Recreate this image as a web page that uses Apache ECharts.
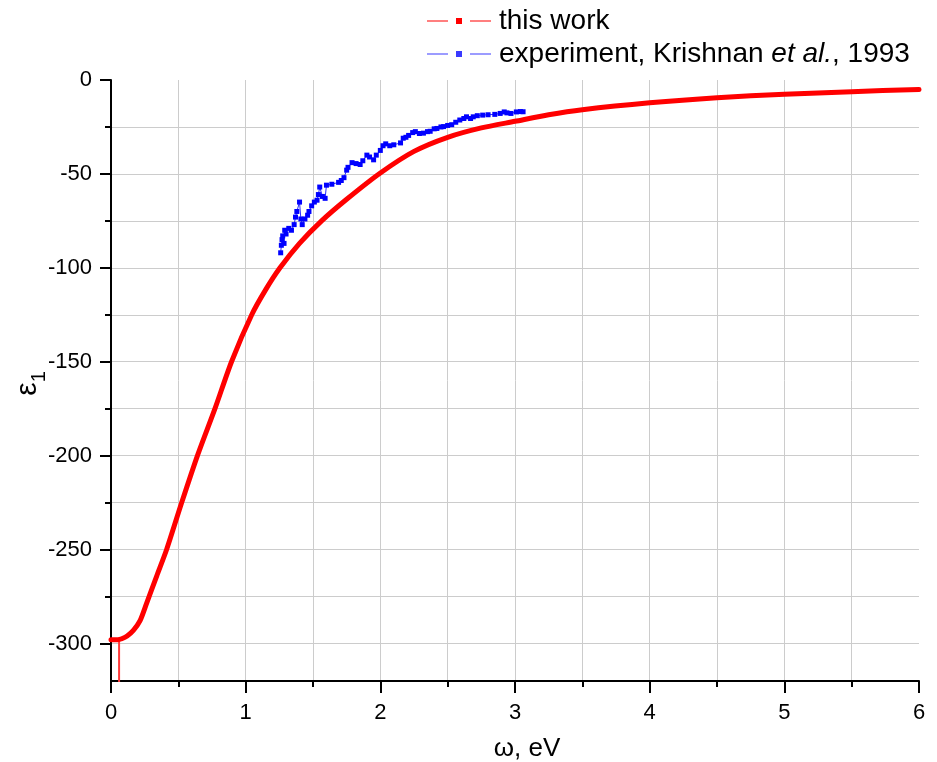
<!DOCTYPE html>
<html><head><meta charset="utf-8">
<script src="https://cdn.jsdelivr.net/npm/echarts@6/dist/echarts.min.js"></script>
<style>html,body{margin:0;padding:0;background:#fff}#c{width:937px;height:762px}</style>
</head><body><div id="c"></div>
<script>
// ---- data ----
const workOmega = [0.0, 0.05, 0.08, 0.12, 0.166, 0.215, 0.265, 0.34, 0.413, 0.525, 0.642, 0.772, 0.895, 1.045, 1.15, 1.255, 1.40, 1.564, 1.75, 2.0, 2.25, 2.5, 2.75, 3.0, 3.25, 3.5, 4.0, 4.5, 5.0, 5.5, 6.0];
const workEps = [-298, -298, -297.5, -296, -293, -288, -278.5, -264, -250, -225, -200, -175, -150, -125, -111.5, -100, -87, -75, -63.5, -49.5, -38, -30.5, -25.5, -22, -18.5, -15.8, -12.1, -9.4, -7.6, -6.2, -5.0];
const expOmega = [1.26, 1.265, 1.27, 1.275, 1.285, 1.29, 1.30, 1.32, 1.34, 1.36, 1.37, 1.38, 1.40, 1.41, 1.42, 1.44, 1.46, 1.47, 1.49, 1.51, 1.53, 1.54, 1.55, 1.57, 1.59, 1.60, 1.64, 1.69, 1.71, 1.73, 1.75, 1.76, 1.79, 1.82, 1.85, 1.87, 1.90, 1.92, 1.95, 1.97, 2.00, 2.02, 2.04, 2.07, 2.10, 2.15, 2.17, 2.19, 2.21, 2.24, 2.26, 2.29, 2.32, 2.35, 2.37, 2.40, 2.42, 2.45, 2.47, 2.50, 2.53, 2.56, 2.59, 2.62, 2.64, 2.67, 2.69, 2.72, 2.76, 2.80, 2.85, 2.89, 2.92, 2.94, 2.97, 3.01, 3.04, 3.06];
const expEps = [-92, -88, -85, -83, -87, -80, -82, -79, -80, -77, -73, -70, -65, -74, -77, -74, -72, -70, -67, -65, -64, -61, -57, -62, -63, -56, -55.5, -54.5, -53.5, -52, -48, -46.5, -44, -44.5, -45, -43, -40, -41, -42.5, -40, -37.5, -35, -34, -35, -34.5, -33.5, -31, -30.5, -29.5, -28, -27.5, -28.5, -28.3, -27.5, -27.3, -26, -25.8, -25, -24.8, -24.2, -23.8, -22.5, -21.3, -20.5, -19.6, -20.5, -19.6, -19, -18.7, -18.5, -18.3, -17.8, -17, -17.5, -17.8, -17, -16.8, -16.9];
const cutoffOmega = [0.06, 0.06];
const cutoffEps = [-298, -340];
const yMajorTicks = [-300, -250, -200, -150, -100, -50, 0];
const yMinorTicks = [-300, -275, -250, -225, -200, -175, -150, -125, -100, -75, -50, -25];
const seriesNames = ['this work', 'experiment, Krishnan et al., 1993'];

const zip = (a, b) => a.map((v, i) => [v, b[i]]);
const FONT = 'Liberation Sans, Arial, sans-serif';
const GRID = '#cccccc';
const legendIcon = 'path://M0,2.5h21v1h-21z M29,0h6v6h-6z M43,2.5h21v1h-21z';

const chart = echarts.init(document.getElementById('c'), null, {renderer: 'canvas'});
chart.setOption({
  animation: false,
  backgroundColor: '#ffffff',
  textStyle: {fontFamily: FONT},
  grid: {left: 111, right: 18, top: 80, bottom: 81, containLabel: false, outerBoundsMode: 'none'},
  legend: {
    orient: 'vertical', left: 422, top: 2, itemWidth: 64, itemHeight: 6, itemGap: 5,
    selectedMode: false,
    textStyle: {fontFamily: FONT, fontSize: 28, color: '#000', lineHeight: 28, padding: [0, 0, 0, 3],
      rich: {i: {fontFamily: FONT, fontSize: 28, fontStyle: 'italic', color: '#000'}}},
    formatter: n => n === seriesNames[1] ? 'experiment, Krishnan {i|et al.}, 1993' : n,
    data: [
      {name: seriesNames[0], icon: legendIcon, itemStyle: {color: '#ff0000', borderWidth: 0}},
      {name: seriesNames[1], icon: legendIcon, itemStyle: {color: '#3a3aff', borderWidth: 0}}
    ]
  },
  xAxis: {
    type: 'value', min: 0, max: 6, interval: 1,
    name: 'ω, eV', nameLocation: 'middle', nameGap: 55,
    nameTextStyle: {fontFamily: FONT, fontSize: 26, color: '#000', padding: [0, 0, 0, 24]},
    axisLine: {onZero: false, lineStyle: {color: '#000', width: 2}},
    axisTick: {length: 12, lineStyle: {color: '#000', width: 2}},
    minorTick: {show: true, splitNumber: 2, length: 6, lineStyle: {color: '#000', width: 2}},
    axisLabel: {fontFamily: FONT, fontSize: 22, color: '#000', margin: 21},
    splitLine: {show: true, showMinLine: false, showMaxLine: false, lineStyle: {color: GRID, width: 1}},
    minorSplitLine: {show: true, lineStyle: {color: GRID, width: 1}}
  },
  yAxis: [{
    type: 'value', min: -320, max: 0, position: 'left',
    name: '{e|ε}{s|1}', nameLocation: 'middle', nameGap: 62, nameRotate: 90, nameMoveOverlap: false,
    nameTextStyle: {fontFamily: FONT, color: '#000', padding: [0, 6, 0, 0],
      rich: {e: {fontFamily: FONT, fontSize: 30, color: '#000'}, s: {fontFamily: FONT, fontSize: 20, color: '#000', padding: [22, 0, 0, 0]}}},
    axisLine: {onZero: false, lineStyle: {color: '#000', width: 2}},
    axisTick: {customValues: yMinorTicks, length: 6, lineStyle: {color: '#000', width: 2}},
    axisLabel: {customValues: yMajorTicks, fontFamily: FONT, fontSize: 22, color: '#000', margin: 19},
    splitLine: {show: true, lineStyle: {color: GRID, width: 1}}
  }, {
    type: 'value', min: -320, max: 0, position: 'left',
    axisLine: {show: false, onZero: false},
    axisTick: {customValues: yMajorTicks, length: 11, lineStyle: {color: '#000', width: 2}},
    axisLabel: {show: false},
    splitLine: {show: false}
  }],
  series: [
    {
      name: 'cutoff', type: 'line', yAxisIndex: 0, data: zip(cutoffOmega, cutoffEps),
      symbol: 'none', lineStyle: {color: '#ff3a3a', width: 2}, silent: true, z: 2, clip: true
    },
    {
      name: seriesNames[0], type: 'line', yAxisIndex: 0, data: zip(workOmega, workEps),
      showSymbol: false, symbol: 'rect', smooth: 0.25,
      lineStyle: {color: '#ff0000', width: 5, join: 'round', cap: 'round'}, itemStyle: {color: '#ff0000'}, z: 3, clip: true
    },
    {
      name: seriesNames[1], type: 'line', yAxisIndex: 0, data: zip(expOmega, expEps),
      symbol: 'rect', symbolSize: 5, showAllSymbol: true,
      lineStyle: {color: '#2a2aff', width: 1}, itemStyle: {color: '#0000ff'}, z: 4
    }
  ]
});
</script></body></html>
